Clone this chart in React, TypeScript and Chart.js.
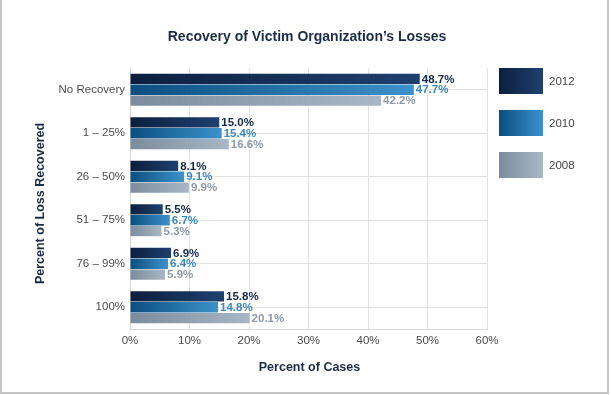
import React, { useEffect, useRef } from "react";
import { Chart, registerables } from "chart.js";

Chart.register(...registerables);

const categories = ["No Recovery", "1 – 25%", "26 – 50%", "51 – 75%", "76 – 99%", "100%"];
const seriesLabels = ["2012", "2010", "2008"];
const values2012 = [48.7, 15.0, 8.1, 5.5, 6.9, 15.8];
const values2010 = [47.7, 15.4, 9.1, 6.7, 6.4, 14.8];
const values2008 = [42.2, 16.6, 9.9, 5.3, 5.9, 20.1];
const xMin = 0;
const xMax = 60;
const xStep = 10;

const titleText = "Recovery of Victim Organization’s Losses";
const xTitle = "Percent of Cases";
const yTitle = "Percent of Loss Recovered";

const gradStops: [string, string][] = [
  ["#0c1e3e", "#1f416f"],
  ["#0b4e7f", "#3c92cb"],
  ["#7a8c9d", "#a9b7c5"],
];
const labelColors = ["#11284d", "#3a88c2", "#8d9aa9"];
const FONT = "'Liberation Sans', Arial, Helvetica, sans-serif";

function barColor(i: number) {
  return (ctx: any) => {
    const chart = ctx.chart;
    if (!chart.chartArea || !chart.scales || !chart.scales.x) return gradStops[i][1];
    const xs = chart.scales.x;
    const x0 = xs.getPixelForValue(0);
    const x1 = xs.getPixelForValue(ctx.raw as number);
    if (!isFinite(x0) || !isFinite(x1) || x1 - x0 < 1) return gradStops[i][0];
    const g = chart.ctx.createLinearGradient(x0, 0, x1, 0);
    g.addColorStop(0, gradStops[i][0]);
    g.addColorStop(1, gradStops[i][1]);
    return g;
  };
}

const decorPlugin = {
  id: "decor",
  beforeDraw(chart: any) {
    const c = chart.ctx;
    c.save();
    c.fillStyle = "#ffffff";
    c.fillRect(0, 0, chart.width, chart.height);
    c.fillStyle = "#c4c4c4";
    c.fillRect(0, 0, 2, 394);
    c.fillRect(607, 0, 2, 394);
    c.fillRect(0, 392, 609, 2);
    c.restore();
  },
  afterDraw(chart: any) {
    const c = chart.ctx;
    const area = chart.chartArea;
    c.save();
    // main title
    c.fillStyle = "#1b2c47";
    c.font = `bold 14px ${FONT}`;
    c.textAlign = "center";
    c.textBaseline = "alphabetic";
    c.fillText(titleText, 307, 41);
    // x title
    c.font = `bold 12.5px ${FONT}`;
    c.fillText(xTitle, (area.left + area.right) / 2 + 1, 371);
    // y title
    c.save();
    c.translate(43.5, (area.top + area.bottom) / 2 + 5);
    c.rotate(-Math.PI / 2);
    c.fillText(yTitle, 0, 0);
    c.restore();
    // legend
    const boxX = 499;
    const boxTops = [68, 110, 152];
    seriesLabels.forEach((lab, i) => {
      const y = boxTops[i];
      const g = c.createLinearGradient(boxX, 0, boxX + 44, 0);
      g.addColorStop(0, gradStops[i][0]);
      g.addColorStop(1, gradStops[i][1]);
      c.fillStyle = g;
      c.fillRect(boxX, y, 44, 26);
      c.fillStyle = "#444444";
      c.font = `11.5px ${FONT}`;
      c.textAlign = "left";
      c.textBaseline = "alphabetic";
      c.fillText(lab, 549, y + 17);
    });
    c.restore();
  },
  afterDatasetsDraw(chart: any) {
    const c = chart.ctx;
    c.save();
    c.font = `bold 11.5px ${FONT}`;
    c.textAlign = "left";
    c.textBaseline = "middle";
    chart.data.datasets.forEach((ds: any, di: number) => {
      const meta = chart.getDatasetMeta(di);
      meta.data.forEach((el: any, idx: number) => {
        const v = ds.data[idx] as number;
        c.fillStyle = labelColors[di];
        c.fillText(v.toFixed(1) + "%", el.x + 2, el.y + 0.5);
      });
    });
    c.restore();
  },
};

export default function App() {
  const ref = useRef<HTMLCanvasElement | null>(null);
  useEffect(() => {
    document.body.style.margin = "0";
    if (!ref.current) return;
    const datasetsValues = [values2012, values2010, values2008];
    const chart = new Chart(ref.current, {
      type: "bar",
      data: {
        labels: categories,
        datasets: datasetsValues.map((vals, i) => ({
          label: seriesLabels[i],
          data: vals,
          backgroundColor: barColor(i),
          borderWidth: 0,
          categoryPercentage: 0.745,
          barPercentage: 0.95,
        })),
      },
      options: {
        indexAxis: "y",
        responsive: false,
        animation: false,
        layout: { padding: { top: 68, right: 124, bottom: 46, left: 0 } },
        plugins: {
          legend: { display: false },
          title: { display: false },
          tooltip: { enabled: false },
        },
        scales: {
          x: {
            min: xMin,
            max: xMax,
            afterFit: (s: any) => {
              s.height = 20;
            },
            ticks: {
              stepSize: xStep,
              padding: 5,
              color: "#4a4a4a",
              font: { family: FONT, size: 11.5 },
              callback: (v: any) => v + "%",
            },
            grid: { color: "#e2e2e2", drawTicks: false },
            border: { display: true, color: "#d6d6d6" },
          },
          y: {
            afterFit: (s: any) => {
              s.width = 130;
            },
            ticks: {
              padding: 5,
              color: "#4a4a4a",
              font: { family: FONT, size: 11.5 },
            },
            grid: { color: "#e2e2e2", drawTicks: false, offset: false },
            border: { display: true, color: "#d6d6d6" },
          },
        },
      },
      plugins: [decorPlugin],
    });
    return () => chart.destroy();
  }, []);
  return (
    <div style={{ width: 611, height: 395 }}>
      <canvas ref={ref} width={611} height={395} style={{ display: "block" }} />
    </div>
  );
}
